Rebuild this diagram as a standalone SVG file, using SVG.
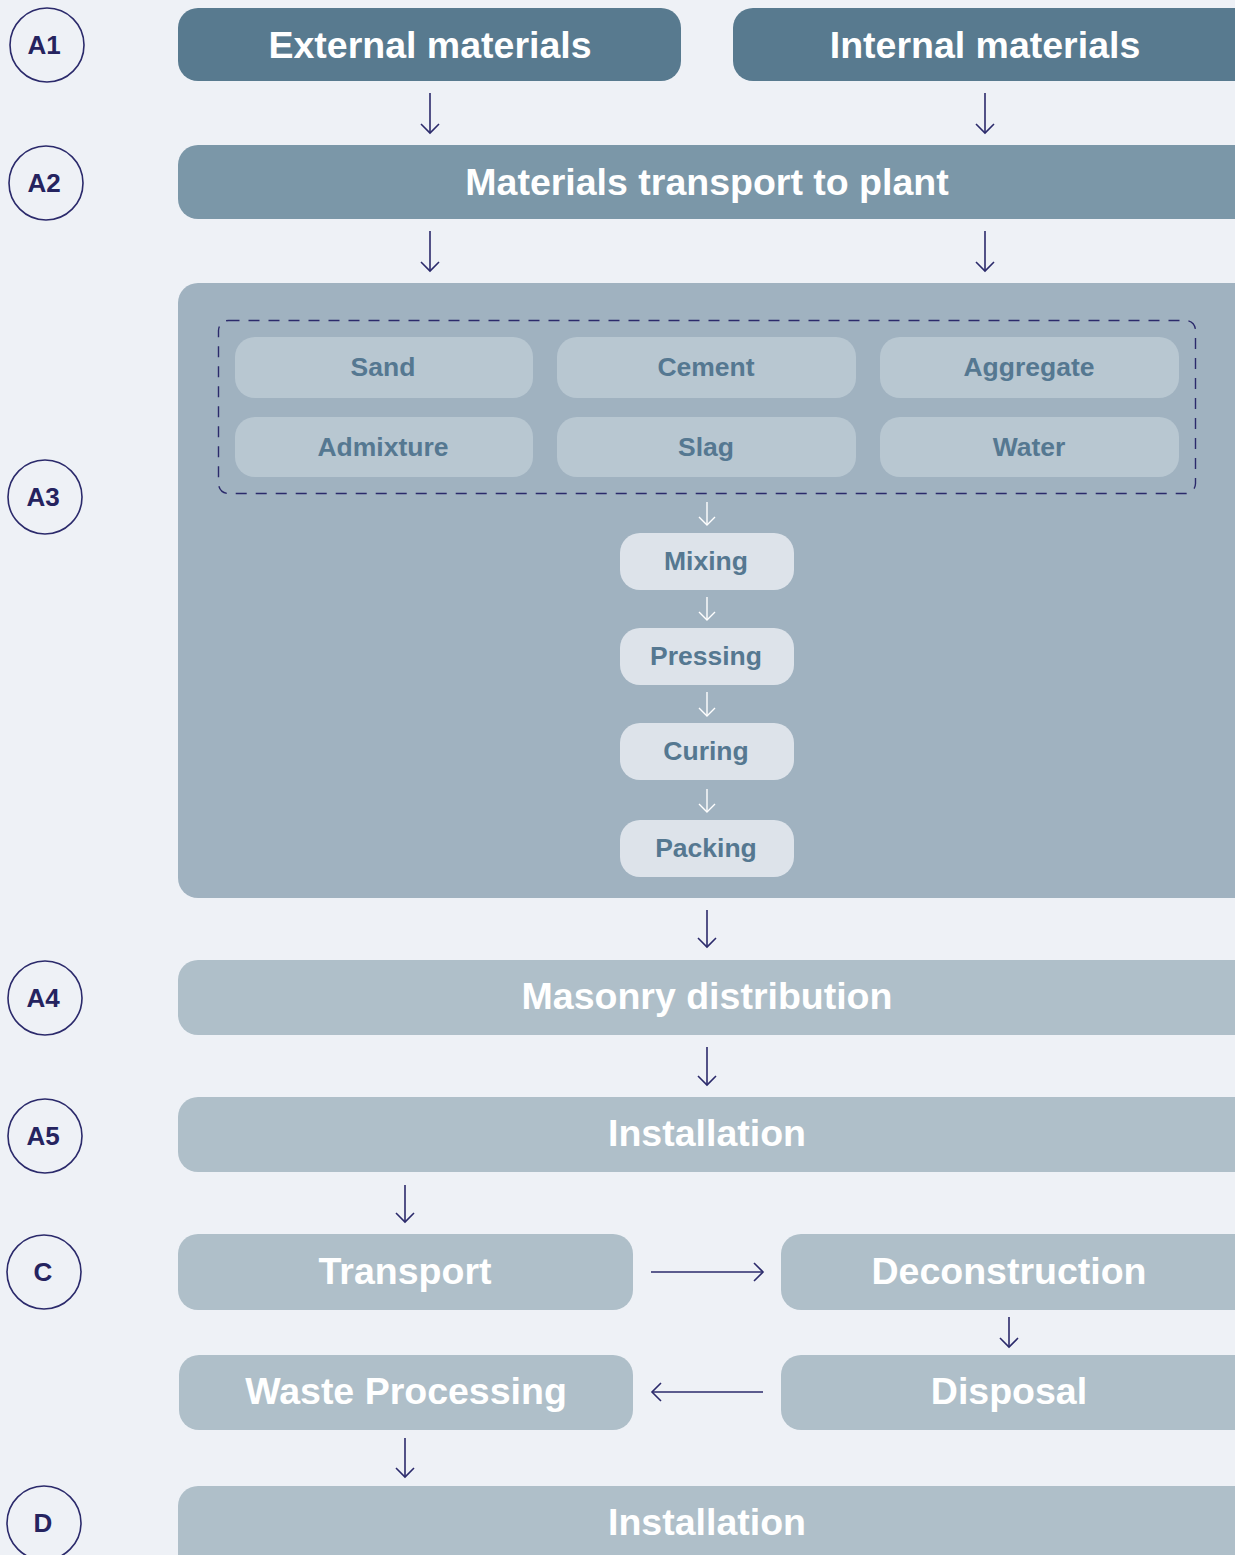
<svg xmlns="http://www.w3.org/2000/svg" width="1235" height="1555" viewBox="0 0 1235 1555">
<style>
text{font-family:"Liberation Sans",Arial,sans-serif;font-weight:bold;text-anchor:middle;dominant-baseline:central}
.lbl circle{fill:none;stroke:#2b2a6b;stroke-width:1.6}
.lbl text{fill:#25235f;font-size:26px}
.big{fill:#fff;font-size:37.5px}
.sm{fill:#557891;font-size:26.5px}
.c{fill:none;stroke:#2b2a6b;stroke-width:1.6}
.w{fill:none;stroke:#fff;stroke-width:1.4}
</style>
<defs>
<marker id="ah" viewBox="-10 -10 20 20" markerWidth="20" markerHeight="20" refX="0" refY="0" orient="auto" markerUnits="userSpaceOnUse">
<path d="M-9,-9 L0,0 L-9,9" fill="none" stroke="#2b2a6b" stroke-width="1.6"/>
</marker>
<marker id="aw" viewBox="-10 -10 20 20" markerWidth="20" markerHeight="20" refX="0" refY="0" orient="auto" markerUnits="userSpaceOnUse">
<path d="M-8,-8 L0,0 L-8,8" fill="none" stroke="#fff" stroke-width="1.4"/>
</marker>
</defs>
<rect width="1235" height="1555" fill="#eef1f6"/>
<g id="labels">
<g class="lbl" id="lblA1"><circle cx="47" cy="45" r="37"/><text x="44" y="45">A1</text></g>
<g class="lbl" id="lblA2"><circle cx="46" cy="183" r="37"/><text x="44" y="183">A2</text></g>
<g class="lbl" id="lblA3"><circle cx="45" cy="497" r="37"/><text x="43" y="497">A3</text></g>
<g class="lbl" id="lblA4"><circle cx="45" cy="998" r="37"/><text x="43" y="998">A4</text></g>
<g class="lbl" id="lblA5"><circle cx="45" cy="1136" r="37"/><text x="43" y="1136">A5</text></g>
<g class="lbl" id="lblC"><circle cx="44" cy="1272" r="37"/><text x="43" y="1272">C</text></g>
<g class="lbl" id="lblD"><circle cx="44" cy="1523" r="37"/><text x="43" y="1523">D</text></g>
</g>
<g id="external"><rect x="178" y="8" width="503" height="73" rx="20" fill="#587a8f"/><text class="big" x="430" y="45">External materials</text></g>
<g id="internal"><rect x="733" y="8" width="520" height="73" rx="20" fill="#587a8f"/><text class="big" x="985" y="45">Internal materials</text></g>
<g id="transport-plant"><rect x="178" y="145" width="1075" height="74" rx="20" fill="#7b97a8"/><text class="big" x="707" y="182">Materials transport to plant</text></g>
<g id="a3"><rect x="178" y="283" width="1075" height="615" rx="20" fill="#a0b2c0"/>
<rect x="218.5" y="320.5" width="977" height="173" rx="10" fill="none" stroke="#2b2a6b" stroke-width="1.4" stroke-dasharray="11 9"/>
</g>
<g id="sand"><rect x="235" y="337" width="298" height="61" rx="20" fill="#b8c7d1"/><text class="sm" x="383" y="367">Sand</text></g>
<g id="cement"><rect x="557" y="337" width="299" height="61" rx="20" fill="#b8c7d1"/><text class="sm" x="706" y="367">Cement</text></g>
<g id="aggregate"><rect x="880" y="337" width="299" height="61" rx="20" fill="#b8c7d1"/><text class="sm" x="1029" y="367">Aggregate</text></g>
<g id="admixture"><rect x="235" y="417" width="298" height="60" rx="20" fill="#b8c7d1"/><text class="sm" x="383" y="447">Admixture</text></g>
<g id="slag"><rect x="557" y="417" width="299" height="60" rx="20" fill="#b8c7d1"/><text class="sm" x="706" y="447">Slag</text></g>
<g id="water"><rect x="880" y="417" width="299" height="60" rx="20" fill="#b8c7d1"/><text class="sm" x="1029" y="447">Water</text></g>
<g id="mixing"><rect x="620" y="533" width="174" height="57" rx="20" fill="#dde3ea"/><text class="sm" x="706" y="561">Mixing</text></g>
<g id="pressing"><rect x="620" y="628" width="174" height="57" rx="20" fill="#dde3ea"/><text class="sm" x="706" y="656">Pressing</text></g>
<g id="curing"><rect x="620" y="723" width="174" height="57" rx="20" fill="#dde3ea"/><text class="sm" x="706" y="751">Curing</text></g>
<g id="packing"><rect x="620" y="820" width="174" height="57" rx="20" fill="#dde3ea"/><text class="sm" x="706" y="848">Packing</text></g>
<g id="masonry"><rect x="178" y="960" width="1075" height="75" rx="20" fill="#afbfc9"/><text class="big" x="707" y="996">Masonry distribution</text></g>
<g id="installation"><rect x="178" y="1097" width="1075" height="75" rx="20" fill="#afbfc9"/><text class="big" x="707" y="1133">Installation</text></g>
<g id="transport"><rect x="178" y="1234" width="455" height="76" rx="20" fill="#afbfc9"/><text class="big" x="405" y="1271">Transport</text></g>
<g id="deconstruction"><rect x="781" y="1234" width="472" height="76" rx="20" fill="#afbfc9"/><text class="big" x="1009" y="1271">Deconstruction</text></g>
<g id="waste"><rect x="179" y="1355" width="454" height="75" rx="20" fill="#afbfc9"/><text class="big" x="406" y="1391">Waste Processing</text></g>
<g id="disposal"><rect x="781" y="1355" width="472" height="75" rx="20" fill="#afbfc9"/><text class="big" x="1009" y="1391">Disposal</text></g>
<g id="installation-d"><rect x="178" y="1486" width="1075" height="100" rx="20" fill="#afbfc9"/><text class="big" x="707" y="1522">Installation</text></g>
<g id="connectors">
<line class="c" x1="430" y1="93" x2="430" y2="133" marker-end="url(#ah)"/>
<line class="c" x1="985" y1="93" x2="985" y2="133" marker-end="url(#ah)"/>
<line class="c" x1="430" y1="231" x2="430" y2="271" marker-end="url(#ah)"/>
<line class="c" x1="985" y1="231" x2="985" y2="271" marker-end="url(#ah)"/>
<line class="w" x1="707" y1="502" x2="707" y2="525" marker-end="url(#aw)"/>
<line class="w" x1="707" y1="597" x2="707" y2="620" marker-end="url(#aw)"/>
<line class="w" x1="707" y1="692" x2="707" y2="716" marker-end="url(#aw)"/>
<line class="w" x1="707" y1="789" x2="707" y2="812" marker-end="url(#aw)"/>
<line class="c" x1="707" y1="910" x2="707" y2="947" marker-end="url(#ah)"/>
<line class="c" x1="707" y1="1047" x2="707" y2="1085" marker-end="url(#ah)"/>
<line class="c" x1="405" y1="1185" x2="405" y2="1222" marker-end="url(#ah)"/>
<line class="c" x1="651" y1="1272" x2="763" y2="1272" marker-end="url(#ah)"/>
<line class="c" x1="1009" y1="1317" x2="1009" y2="1347" marker-end="url(#ah)"/>
<line class="c" x1="763" y1="1392" x2="652" y2="1392" marker-end="url(#ah)"/>
<line class="c" x1="405" y1="1438" x2="405" y2="1477" marker-end="url(#ah)"/>
</g>
</svg>
